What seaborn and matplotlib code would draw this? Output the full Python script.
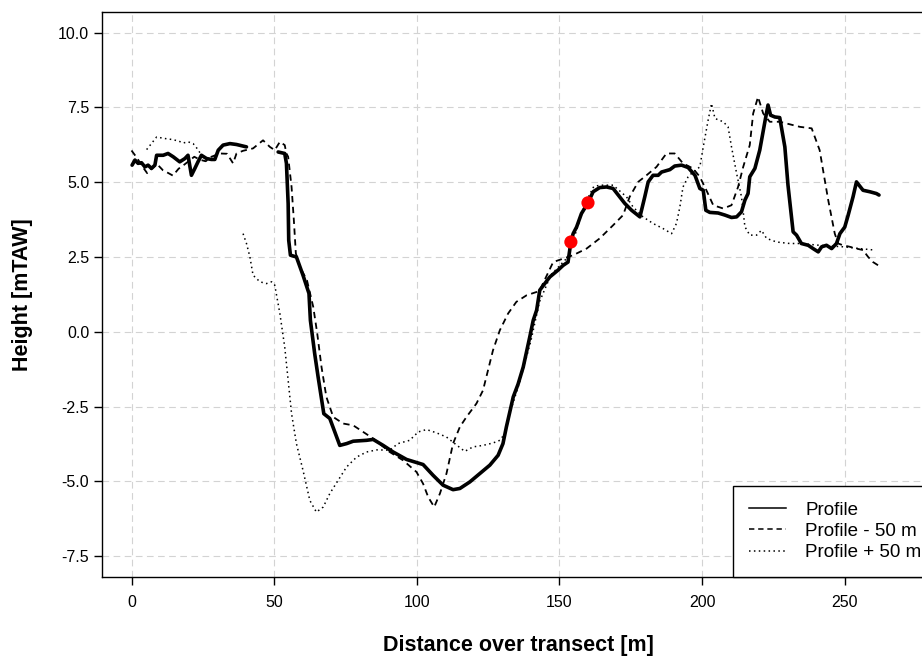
import numpy as np
import pandas as pd
import matplotlib
matplotlib.use("Agg")
import matplotlib.pyplot as plt
from matplotlib.lines import Line2D
import seaborn as sns

nan = np.nan

# ---------------- data ----------------
profile_x = [0.2, 1.2, 2.3, 3.5, 4.7, 5.8, 7.0, 8.2, 8.8, 11.1, 12.8, 14.6, 16.9, 18.7, 19.8,
             21.0, 22.2, 23.3, 24.5, 26.3, 28.0, 29.2, 30.4, 32.1, 34.5, 36.8, 40.3, nan,
             51.4, 53.7, 54.3, 54.9, 55.1, 55.7, 57.8, 60.1, 62.2, 62.7, 64.2, 65.4, 67.4,
             69.5, 73.0, 75.4, 77.7, 82.4, 84.7, 88.2, 91.7, 96.4, 102.2, 105.7, 109.2,
             112.7, 115.1, 118.6, 122.1, 125.6, 128.5, 130.2, 131.4, 132.6, 133.8, 135.5,
             137.3, 139.6, 140.8, 142.0, 143.1, 146.6, 149.5, 151.3, 153.0, 153.6, 154.0,
             154.8, 156.0, 157.7, 160.0, 161.8, 164.1, 166.5, 168.8, 170.6, 172.9, 175.3,
             178.2, 179.9, 181.1, 182.8, 184.6, 185.8, 188.7, 190.4, 192.8, 195.1, 197.5,
             199.2, 200.4, 201.3, 202.7, 205.6, 208.0, 210.3, 212.1, 213.8, 215.0, 216.1,
             216.7, 218.5, 220.2, 222.0, 223.1, 224.0, 225.5, 227.2, 229.0, 230.1, 231.9,
             233.1, 234.8, 237.2, 238.9, 240.7, 241.9, 243.6, 245.4, 247.1, 248.3, 250.0,
             251.2, 252.9, 254.1, 256.4, 258.8, 261.1, 262.0]
profile_y = [5.57, 5.74, 5.63, 5.65, 5.51, 5.57, 5.46, 5.57, 5.90, 5.90, 5.96, 5.85, 5.68, 5.79,
             5.90, 5.23, 5.46, 5.68, 5.90, 5.79, 5.76, 5.76, 6.07, 6.24, 6.29, 6.26, 6.18, nan,
             6.01, 5.96, 5.63, 4.29, 3.06, 2.56, 2.50, 1.89, 1.28, 0.38, -0.73, -1.51, -2.74,
             -2.90, -3.80, -3.74, -3.66, -3.63, -3.60, -3.80, -4.02, -4.27, -4.44, -4.80, -5.13,
             -5.28, -5.24, -5.02, -4.74, -4.46, -4.13, -3.74, -3.18, -2.68, -2.18, -1.75,
             -1.18, -0.17, 0.38, 0.72, 1.39, 1.83, 2.06, 2.22, 2.33, 2.73, 3.00,
             3.28, 3.50, 3.95, 4.31, 4.68, 4.82, 4.84, 4.79, 4.57, 4.29, 4.06,
             3.84, 4.51, 5.01, 5.23, 5.23, 5.34, 5.42, 5.54, 5.57, 5.49, 5.23,
             4.79, 4.73, 4.06, 3.99, 3.97, 3.90, 3.82, 3.84, 4.01, 4.40, 4.62,
             5.18, 5.46, 6.07, 7.02, 7.58, 7.24, 7.18, 7.16, 6.18, 4.90, 3.34,
             3.23, 2.95, 2.89, 2.78, 2.67, 2.84, 2.89, 2.78, 2.95, 3.28, 3.50,
             3.90, 4.51, 5.01, 4.73, 4.68, 4.62, 4.57]

minus50_x = [0.0, 2.0, 4.0, 5.5, 7.0, 9.0, 11.0, 13.0, 14.5, 16.5, 18.0, 20.0, 22.0, 24.0, 26.0,
             28.0, 31.0, 33.5, 35.6, 36.8, 39.1, 42.6, 46.1, 48.5, 50.2, 52.0, 53.7, 54.3,
             54.9, 56.1, 56.9, 57.6, 59.0, 61.5, 63.7, 65.1, 66.6, 68.3, 70.7, 74.2, 77.7,
             81.2, 84.7, 90.5, 95.2, 99.9, 102.2, 104.0, 106.1, 108.1, 110.4, 112.7, 115.1,
             117.4, 120.9, 123.2, 124.4, 126.7, 129.1, 132.0, 134.9, 138.5, 142.0, 143.1,
             147.8, 154.8, 159.5, 164.1, 168.8, 172.3, 174.6, 177.6, 180.5, 184.0, 187.5,
             190.4, 193.3, 196.8, 199.2, 201.5, 203.9, 207.4, 210.3, 212.6, 214.4, 216.7,
             217.9, 219.6, 221.4, 223.7, 227.2, 234.3, 238.4, 241.2, 242.4, 244.2, 246.5,
             247.7, 249.4, 251.8, 254.1, 256.4, 258.2, 259.9, 261.7]
minus50_y = [6.06, 5.8, 5.5, 5.3, 5.45, 5.6, 5.4, 5.3, 5.22, 5.45, 5.55, 5.7, 5.85, 5.75, 5.7,
             5.85, 5.96, 5.95, 5.63, 5.96, 6.05, 6.13, 6.40, 6.18, 6.07, 6.35, 6.24, 5.96,
             5.85, 4.84, 3.73, 2.62, 2.17, 1.72, 0.83, -0.06, -1.18, -2.18, -2.85, -3.07, -3.13,
             -3.35, -3.57, -4.02, -4.30, -4.69, -5.08, -5.53, -5.86, -5.41, -4.74, -3.74, -3.18,
             -2.85, -2.40, -1.96, -1.50, -0.62, 0.05, 0.61, 1.00, 1.22, 1.33, 1.39,
             2.33, 2.56, 2.78, 3.12, 3.56, 3.90, 4.51, 5.01, 5.23, 5.51, 5.96,
             5.96, 5.63, 5.46, 5.18, 4.73, 4.23, 4.12, 4.23, 4.84, 5.51, 6.24,
             7.30, 7.85, 7.30, 7.02, 7.02, 6.85, 6.80, 6.07, 5.40, 4.40, 3.28,
             2.95, 2.89, 2.84, 2.78, 2.73, 2.50, 2.33, 2.22]

plus50_x = [5.3, 8.8, 11.7, 14.0, 16.4, 18.1, 19.8, 21.6, 23.3, 24.5, nan,
            39.1, 40.3, 41.5, 42.6, 45.0, 47.3, 49.1, 50.2, 52.0, 53.7, 54.9, 56.1, 57.8,
            60.1, 62.5, 64.8, 67.2, 69.5, 72.4, 75.4, 78.9, 82.4, 86.0, 90.5, 93.4, 97.5,
            100.5, 103.4, 106.9, 110.4, 113.3, 116.8, 119.7, 123.2, 126.7, 129.1, 130.9,
            133.0, 136.0, 140.0, 143.0, 147.0, 150.0, 153.0, 156.0, 159.0, 162.0, 164.1,
            168.8, 173.5, 175.8, 179.3, 182.8, 186.3, 189.3, 191.0, 192.2, 193.3, 195.1,
            196.8, 199.2, 200.4, 202.1, 203.3, 204.5, 207.4, 209.1, 210.3, 212.1, 213.8,
            215.0, 216.7, 219.1, 220.8, 222.6, 226.1, 230.7, 234.3, 241.2, 249.4, 255.3, 260.5]
plus50_y = [6.09, 6.51, 6.46, 6.43, 6.38, 6.31, 6.35, 6.29, 6.09, 5.90, nan,
            3.28, 2.95, 2.50, 1.89, 1.67, 1.61, 1.67, 1.56, 0.61, -0.51, -1.62, -2.74, -3.74,
            -4.63, -5.64, -6.03, -5.86, -5.41, -4.97, -4.52, -4.19, -4.02, -3.95, -3.96, -3.74, -3.63,
            -3.35, -3.27, -3.38, -3.52, -3.74, -4.00, -3.85, -3.80, -3.72, -3.63, -3.40,
            -2.60, -1.70, -0.30, 1.00, 1.90, 2.20, 2.50, 3.40, 4.30, 4.85, 4.90,
            4.90, 4.51, 4.17, 3.84, 3.62, 3.45, 3.28, 3.62, 4.17, 4.84, 5.18,
            5.34, 5.51, 6.18, 7.07, 7.63, 7.13, 7.02, 6.85, 6.18, 5.29, 4.51,
            3.51, 3.23, 3.23, 3.39, 3.12, 3.00, 2.95, 2.95, 2.89, 2.84, 2.78, 2.73]

marker_x = [154.0, 160.0]
marker_y = [3.00, 4.31]

x_ticks = [0, 50, 100, 150, 200, 250]
y_ticks = [-7.5, -5.0, -2.5, 0.0, 2.5, 5.0, 7.5, 10.0]
legend_labels = ["Profile", "Profile - 50 m", "Profile + 50 m"]


def segments(xs, ys):
    """Split a series at NaN gaps into separate DataFrames."""
    df = pd.DataFrame({"x": xs, "y": ys})
    gap = df["x"].isna()
    seg_id = gap.cumsum()
    return [g for _, g in df[~gap].groupby(seg_id[~gap])]


plt.rcParams["font.family"] = ["Liberation Sans", "DejaVu Sans"]

fig = plt.figure(figsize=(9.22, 6.57), dpi=100)
W, H = 922.0, 657.0
left, right, top, bottom = 101.7, 935.0, 11.7, 577.0
ax = fig.add_axes([left / W, (H - bottom) / H, (right - left) / W, (bottom - top) / H])

x0 = -10.45
x1 = x0 + (right - left) / 2.853
ax.set_xlim(x0, x1)
ax.set_ylim(-8.2, 10.7)

# grid
grid_kw = dict(color="#d3d3d3", linewidth=0.8, linestyle=(0, (6, 4)), zorder=0)
for xv in list(x_ticks) + [300]:
    ax.axvline(xv, **grid_kw)
for yv in y_ticks:
    ax.axhline(yv, **grid_kw)

# lines
for seg in segments(minus50_x, minus50_y):
    sns.lineplot(data=seg, x="x", y="y", ax=ax, sort=False, estimator=None,
                 color="black", linewidth=1.3, linestyle=(0, (3.5, 2.5)), legend=False, zorder=3)
for seg in segments(plus50_x, plus50_y):
    sns.lineplot(data=seg, x="x", y="y", ax=ax, sort=False, estimator=None,
                 color="black", linewidth=1.1, linestyle=(0, (1, 2.2)), legend=False, zorder=3)
for seg in segments(profile_x, profile_y):
    sns.lineplot(data=seg, x="x", y="y", ax=ax, sort=False, estimator=None,
                 color="black", linewidth=2.6, legend=False, zorder=4,
                 solid_joinstyle="round", solid_capstyle="round")

sns.scatterplot(x=marker_x, y=marker_y, ax=ax, color="red", s=90, edgecolor="none", zorder=5, legend=False)

# axes styling
ax.set_xticks(x_ticks)
ax.set_xticklabels([str(v) for v in x_ticks])
ax.set_yticks(y_ticks)
ax.set_yticklabels([f"{v:.1f}" for v in y_ticks])
ax.tick_params(axis="both", direction="out", length=6, width=1.0, colors="black", labelsize=11.5)
ax.tick_params(axis="x", pad=7)
ax.tick_params(axis="y", pad=3)
for sp in ax.spines.values():
    sp.set_color("black")
    sp.set_linewidth(1.0)

ax.set_xlabel("Distance over transect [m]", fontsize=15.5, fontweight="bold")
ax.set_ylabel("Height [mTAW]", fontsize=15.5, fontweight="bold")
ax.xaxis.set_label_coords(0.5, -0.122)
ax.yaxis.set_label_coords(-0.0956, 0.5)
ax.xaxis.label.set_va("center")
ax.yaxis.label.set_va("center")

handles = [
    Line2D([], [], color="black", linewidth=1.1),
    Line2D([], [], color="black", linewidth=1.1, linestyle=(0, (3.5, 2.5))),
    Line2D([], [], color="black", linewidth=1.1, linestyle=(0, (1, 2.2))),
]
leg_x = (733.0 - left) / (right - left)
leg = ax.legend(handles, legend_labels, loc="lower left", bbox_to_anchor=(leg_x, 0.0),
                borderaxespad=0, frameon=True, fancybox=False, fontsize=13.5,
                handlelength=2.0, handletextpad=1.0, borderpad=0.85, labelspacing=0.22)
leg.get_frame().set_edgecolor("black")
leg.get_frame().set_linewidth(1.0)
leg.get_frame().set_alpha(1)

fig.savefig("out.png", dpi=100)
